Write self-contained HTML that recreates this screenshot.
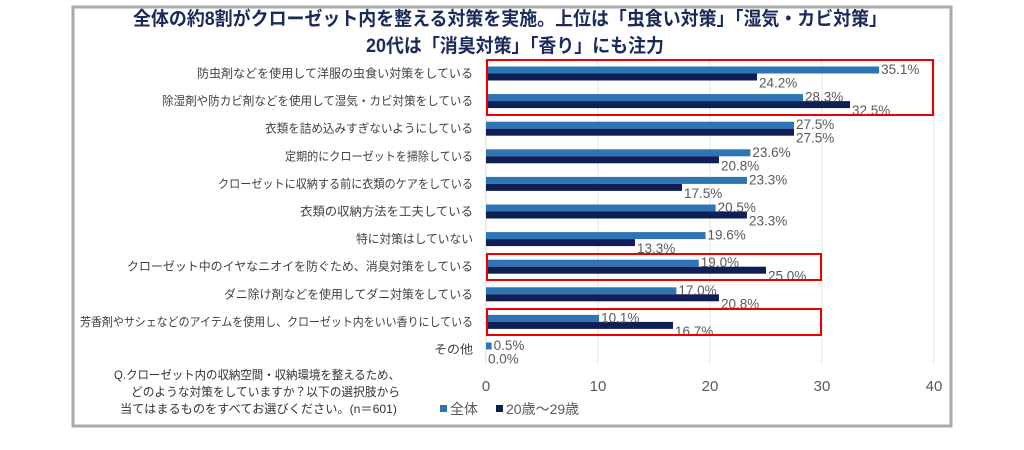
<!DOCTYPE html>
<html><head><meta charset="utf-8"><style>
body{margin:0;background:#fff;width:1024px;height:445px;overflow:hidden}
svg text{font-family:"Liberation Sans","Noto Sans CJK JP",sans-serif}
</style></head><body>
<svg width="1024" height="445" xmlns="http://www.w3.org/2000/svg">
<rect x="73" y="7" width="878" height="419" fill="#fff" stroke="#aaa" stroke-width="3"/>
<text x="133" y="25" textLength="754" lengthAdjust="spacingAndGlyphs" font-size="19" font-weight="bold" fill="#1a2a5a">全体の約8割がクローゼット内を整える対策を実施。上位は「虫食い対策」「湿気・カビ対策」</text>
<text x="366" y="52" textLength="298" lengthAdjust="spacingAndGlyphs" font-size="19" font-weight="bold" fill="#1a2a5a">20代は「消臭対策」「香り」にも注力</text>
<g stroke="#e0e0e0" stroke-width="1">
<line x1="598" y1="60" x2="598" y2="363"/><line x1="710" y1="60" x2="710" y2="363"/>
<line x1="822" y1="60" x2="822" y2="363"/><line x1="934" y1="60" x2="934" y2="363"/>
</g>
<line x1="486" y1="60" x2="486" y2="363" stroke="#d9d9d9"/>
<g id="bars"></g>
<g font-size="15" fill="#595959" text-anchor="middle">
<text x="486" y="391">0</text><text x="598" y="391">10</text><text x="710" y="391">20</text><text x="822" y="391">30</text><text x="934" y="391">40</text>
</g>
<rect x="487" y="60" width="446" height="55" fill="none" stroke="#e00" stroke-width="2"/>
<rect x="487" y="254" width="334" height="26" fill="none" stroke="#e00" stroke-width="2"/>
<rect x="487" y="309" width="334" height="26" fill="none" stroke="#e00" stroke-width="2"/>
<g font-size="12" fill="#333">
<text x="114" y="379" textLength="286" lengthAdjust="spacingAndGlyphs">Q.クローゼット内の収納空間・収納環境を整えるため、</text>
<text x="131" y="396" textLength="269" lengthAdjust="spacingAndGlyphs">どのような対策をしていますか？以下の選択肢から</text>
<text x="120" y="413" textLength="277" lengthAdjust="spacingAndGlyphs">当てはまるものをすべてお選びください。(n＝601)</text>
</g>
<rect x="440" y="405" width="7" height="7" fill="#2e75b6"/>
<text x="450" y="414" font-size="14" fill="#595959">全体</text>
<rect x="496" y="405" width="7" height="7" fill="#0d1f55"/>
<text x="506" y="414" font-size="14" fill="#595959">20歳～29歳</text>
</svg>
<script>
var d=[["防虫剤などを使用して洋服の虫食い対策をしている",35.1,24.2,197],
["除湿剤や防カビ剤などを使用して湿気・カビ対策をしている",28.3,32.5,162],
["衣類を詰め込みすぎないようにしている",27.5,27.5,265],
["定期的にクローゼットを掃除している",23.6,20.8,285],
["クローゼットに収納する前に衣類のケアをしている",23.3,17.5,218],
["衣類の収納方法を工夫している",20.5,23.3,300],
["特に対策はしていない",19.6,13.3,356],
["クローゼット中のイヤなニオイを防ぐため、消臭対策をしている",19.0,25.0,127],
["ダニ除け剤などを使用してダニ対策をしている",17.0,20.8,224],
["芳香剤やサシェなどのアイテムを使用し、クローゼット内をいい香りにしている",10.1,16.7,80],
["その他",0.5,0.0,434]];
var g=document.getElementById("bars"),s="";
d.forEach(function(r,i){var c=73.5+i*27.6,a=486+r[1]*11.2,b=486+r[2]*11.2;
s+='<text x="'+r[3]+'" y="'+(c+4)+'" textLength="'+(473-r[3])+'" lengthAdjust="spacingAndGlyphs" font-size="12" fill="#404040">'+r[0]+'</text>';
s+='<rect x="486" y="'+(c-7)+'" width="'+(r[1]*11.2)+'" height="7" fill="#2e75b6"/>';
s+='<rect x="486" y="'+c+'" width="'+(r[2]*11.2)+'" height="7" fill="#0d1f55"/>';
s+='<text x="'+(a+2)+'" y="'+(c+0.5)+'" font-size="13.5" fill="#595959">'+r[1].toFixed(1)+'%</text>';
s+='<text x="'+(b+2)+'" y="'+(c+14)+'" font-size="13.5" fill="#595959">'+r[2].toFixed(1)+'%</text>';});
g.innerHTML=s;
</script>
</body></html>
